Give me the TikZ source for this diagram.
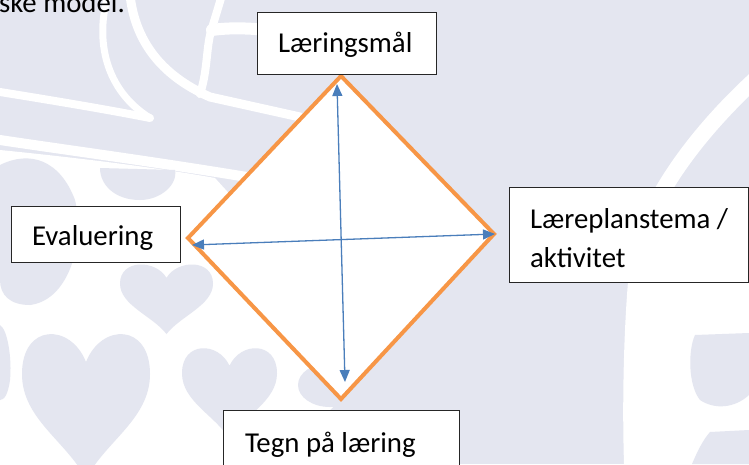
\documentclass[tikz,border=0pt]{standalone}
\usepackage{fontspec}
\setmainfont{Carlito}
\usetikzlibrary{arrows.meta}
\definecolor{bgc}{RGB}{228,230,240}
\definecolor{org}{RGB}{247,150,70}
\definecolor{arr}{RGB}{74,126,187}
\newcommand{\myheart}[4]{\begin{scope}[shift={(#1,#2)},xscale=#3,yscale=#4]
\fill[bgc] (0.5,0.22) .. controls (0.38,-0.04) and (0,-0.04) .. (0,0.3) .. controls (0,0.6) and (0.35,0.75) .. (0.5,1) .. controls (0.65,0.75) and (1,0.6) .. (1,0.3) .. controls (1,-0.04) and (0.62,-0.04) .. (0.5,0.22) -- cycle;
\end{scope}}
\tikzset{
  box/.style={draw=black!85, line width=1pt, fill=white, rectangle, inner sep=0pt, outer sep=0pt, anchor=north west},
  txt/.style={inner sep=0pt, outer sep=0pt, anchor=base west, font=\fontsize{28.8}{35}\selectfont},
  wband/.style={draw=white, line cap=round},
  dia/.style={draw=org, line width=4pt, fill=white, line join=miter},
  arrline/.style={draw=arr, line width=1.3pt, {Triangle[length=12pt,width=10pt]}-{Triangle[length=12pt,width=10pt]}}
}
\begin{document}
\begin{tikzpicture}[x=1pt,y=-1pt]
\useasboundingbox (0,0) rectangle (749,464);
\clip (0,0) rectangle (749,464);
% background watermark
\fill[bgc] (0,0) rectangle (749,464);
\fill[white] (0,150) .. controls (80,158) and (160,168) .. (215,178) -- (235,200) -- (188,238) -- (341,399) -- (330,410) -- (300,464) -- (0,464) -- cycle;
\draw[wband, line width=8pt] (0,92) .. controls (50,100) and (110,110) .. (150,118);
\draw[wband, line width=7pt] (108,-5) .. controls (95,40) and (105,90) .. (150,118);
\draw[wband, line width=9pt] (130,-5) .. controls (135,40) and (160,75) .. (210,97) -- (300,117);
\draw[wband, line width=8pt] (200,94) .. controls (208,70) and (206,45) .. (212,28) -- (222,-5);
\draw[wband, line width=12pt] (212,30) .. controls (240,26) and (270,30) .. (300,34);
\draw[wband, line width=10pt] (0,140) .. controls (80,152) and (180,165) .. (300,186);
\draw[wband, line width=16pt] (760,75) .. controls (710,120) and (660,180) .. (640,240);
\fill[white] (628,282) -- (749,282) -- (749,464) -- (624,464) .. controls (622,400) and (624,330) .. (628,282) -- cycle;
% blobs
\fill[bgc] (0,165) .. controls (30,150) and (60,160) .. (75,200) .. controls (85,240) and (70,300) .. (30,305) .. controls (10,305) and (0,295) .. (0,280) -- cycle;
\fill[bgc] (100,168) -- (175,170) .. controls (178,185) and (160,200) .. (140,200) .. controls (115,200) and (100,185) .. (100,168) -- cycle;
\myheart{120}{262}{93}{72}
\myheart{22}{329}{128}{150}
\myheart{182}{345}{95}{94}
\fill[bgc] (0,325) .. controls (8,330) and (12,360) .. (10,380) .. controls (8,395) and (4,400) .. (0,400) -- cycle;
\fill[bgc] (330,385) ellipse [x radius=32, y radius=22];
\fill[bgc] (695,335) -- (749,333) -- (749,395) .. controls (735,408) and (715,410) .. (700,400) .. controls (688,385) and (688,350) .. (695,335) -- cycle;
\fill[bgc] (710,432) -- (749,430) -- (749,464) -- (692,464) .. controls (698,450) and (703,440) .. (710,432) -- cycle;
% top-left text
\node[txt] (cap) at (-1,12) {ske model.};
% diamond
\coordinate (T) at (341,76);
\coordinate (L) at (188,238);
\coordinate (R) at (494,234);
\coordinate (B) at (341,399);
\path[dia] (T) -- (R) -- (B) -- (L) -- cycle;
% arrows
\coordinate (a1) at (337,84);
\coordinate (a2) at (345,382);
\coordinate (b1) at (192,245);
\coordinate (b2) at (495,234);
\draw[arrline] (a1) -- (a2);
\draw[arrline] (b1) -- (b2);
% boxes
\node[box, minimum width=179pt, minimum height=62pt] (lm) at (257,12) {};
\node[box, minimum width=169pt, minimum height=56pt] (ev) at (11,206) {};
\node[box, minimum width=239pt, minimum height=95pt] (lp) at (509,187) {};
\node[box, minimum width=236pt, minimum height=70pt] (tp) at (223,410) {};
% texts
\node[txt] (lmt) at (278,52) {Læringsmål};
\node[txt] (evt) at (32,245) {Evaluering};
\node[txt] (lpt1) at (530,228) {Læreplanstema /};
\node[txt] (lpt2) at (530,267) {aktivitet};
\node[txt] (tpt) at (245,452) {Tegn på læring};
\end{tikzpicture}
\end{document}
